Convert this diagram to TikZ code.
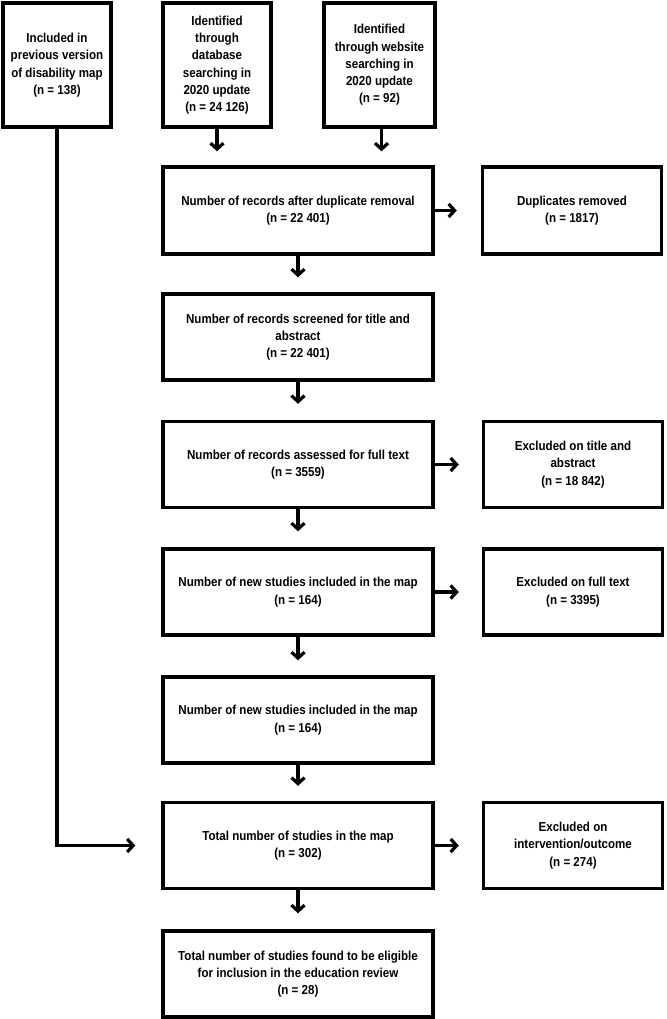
\documentclass[tikz,border=0pt]{standalone}
\usepackage{fontspec}
\setmainfont{Liberation Sans}
\newfontfamily\boxfont{Liberation Sans Bold}[FakeStretch=0.89]
\usetikzlibrary{arrows.meta}
\begin{document}
\begin{tikzpicture}[x=1pt,y=-1pt,
  box/.style={draw=black,line width=3.4pt,fill=white,align=center,inner sep=0pt,
    font=\boxfont\fontsize{13}{17.3}\selectfont},
  arr/.style={line width=3.6pt,-{Straight Barb[length=6pt,width=13pt,line width=3.2pt]}},
  ln/.style={line width=3.4pt}]
\useasboundingbox (0,0) rectangle (666,1019);
\fill[white] (0,0) rectangle (666,1019);
\node[box,minimum width=108pt,minimum height=124pt] (b1) at (57,65) {Included in\\previous version\\of disability map\\(n = 138)};
\node[box,minimum width=108pt,minimum height=124pt] (b2) at (217,65) {Identified\\through\\database\\searching in\\2020 update\\(n = 24 126)};
\node[box,minimum width=111pt,minimum height=124pt] (b3) at (379.5,65) {Identified\\through website\\searching in\\2020 update\\(n = 92)};
\node[box,minimum width=270pt,minimum height=87pt] (dup) at (298,210.5) {Number of records after duplicate removal\\(n = 22 401)};
\node[box,minimum width=179pt,minimum height=87pt] (dupr) at (572,210.5) {Duplicates removed\\(n = 1817)};
\node[box,minimum width=270pt,minimum height=86pt] (scr) at (298,337) {Number of records screened for title and\\abstract\\(n = 22 401)};
\node[box,minimum width=270pt,minimum height=86pt] (ass) at (298,464.5) {Number of records assessed for full text\\(n = 3559)};
\node[box,minimum width=179pt,minimum height=86pt] (exta) at (573,464.5) {Excluded on title and\\abstract\\(n = 18 842)};
\node[box,minimum width=270pt,minimum height=86pt] (new1) at (298,592) {Number of new studies included in the map\\(n = 164)};
\node[box,minimum width=179pt,minimum height=86pt] (exft) at (573,592) {Excluded on full text\\(n = 3395)};
\node[box,minimum width=270pt,minimum height=86pt] (new2) at (298,720) {Number of new studies included in the map\\(n = 164)};
\node[box,minimum width=270pt,minimum height=86pt] (tot) at (298,845.5) {Total number of studies in the map\\(n = 302)};
\node[box,minimum width=179pt,minimum height=86pt] (exio) at (573,845.5) {Excluded on\\intervention/outcome\\(n = 274)};
\node[box,minimum width=270pt,minimum height=86pt] (elig) at (298,974) {Total number of studies found to be eligible\\for inclusion in the education review\\(n = 28)};
% arrows
\draw[arr,shorten >=14pt] (b2.south) -- (b2.south |- dup.north);
\draw[arr,shorten >=14pt] ([xshift=2pt]b3.south) -- ([xshift=2pt]b3.south |- dup.north);
\draw[arr,shorten >=24pt] (dup.east) -- (dupr.west);
\draw[arr,shorten >=15pt] (dup.south) -- (scr.north);
\draw[arr,shorten >=16pt] (scr.south) -- (ass.north);
\draw[arr,shorten >=23pt] (ass.east) -- (exta.west);
\draw[arr,shorten >=16pt] (ass.south) -- (new1.north);
\draw[arr,shorten >=23pt] (new1.east) -- (exft.west);
\draw[arr,shorten >=15pt] (new1.south) -- (new2.north);
\draw[arr,shorten >=15pt] (new2.south) -- (tot.north);
\draw[arr,shorten >=23pt] (tot.east) -- (exio.west);
\draw[arr,shorten >=16pt] (tot.south) -- (elig.north);
\draw[arr,shorten >=26pt] (b1.south) |- (tot.west);
\end{tikzpicture}
\end{document}
